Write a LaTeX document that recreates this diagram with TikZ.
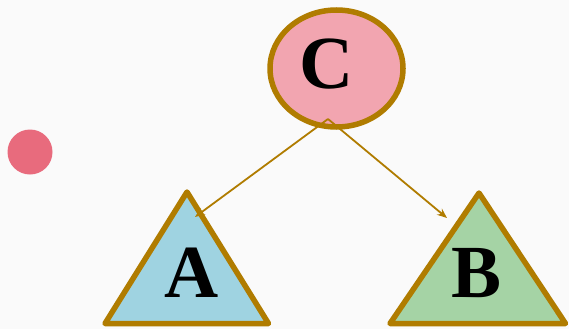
\documentclass[tikz,border=0pt]{standalone}
\usepackage{fontspec}
\setmainfont{Liberation Serif}
\usetikzlibrary{shapes.geometric,arrows.meta}
\definecolor{bg}{RGB}{250,250,250}
\definecolor{gold}{RGB}{176,124,0}
\definecolor{pinkfill}{RGB}{242,165,176}
\definecolor{bluefill}{RGB}{159,211,225}
\definecolor{greenfill}{RGB}{165,211,165}
\definecolor{dotred}{RGB}{232,107,125}
\tikzset{
  shapeline/.style={draw=gold, line width=5.5pt, line join=round},
  letter/.style={inner sep=0pt, font=\fontsize{75}{75}\selectfont\bfseries},
  conn/.style={draw=gold, line width=1.8pt, -{Stealth[length=10pt,width=8pt,inset=3.5pt]}}
}
\begin{document}
\begin{tikzpicture}[x=1pt,y=-1pt]
\useasboundingbox (0,0) rectangle (569,329);
\fill[bg] (0,0) rectangle (569,329);
% red dot
\node[circle, fill=dotred, minimum size=45pt, inner sep=0pt] (dot) at (30,152) {};
% ellipse C
\node[ellipse, shapeline, fill=pinkfill, minimum width=133pt, minimum height=117pt, inner sep=0pt] (C) at (336.5,68.5) {};
\node[letter] (Ctext) at (327,64) {C};
% triangle A
\path[shapeline, fill=bluefill] (105,323.5) -- (187,192) -- (268.5,323.5) -- cycle;
\node[letter] (Atext) at (192,273) {A};
% triangle B
\path[shapeline, fill=greenfill] (390,323.5) -- (479,193) -- (565.5,323.5) -- cycle;
\node[letter] (Btext) at (477,273) {B};
% connectors
\coordinate (cstart) at (328,119);
\coordinate (aend) at (195,217);
\coordinate (bend) at (447,218);
\draw[conn] (cstart) -- (aend);
\draw[conn] (cstart) -- (bend);
\end{tikzpicture}
\end{document}
